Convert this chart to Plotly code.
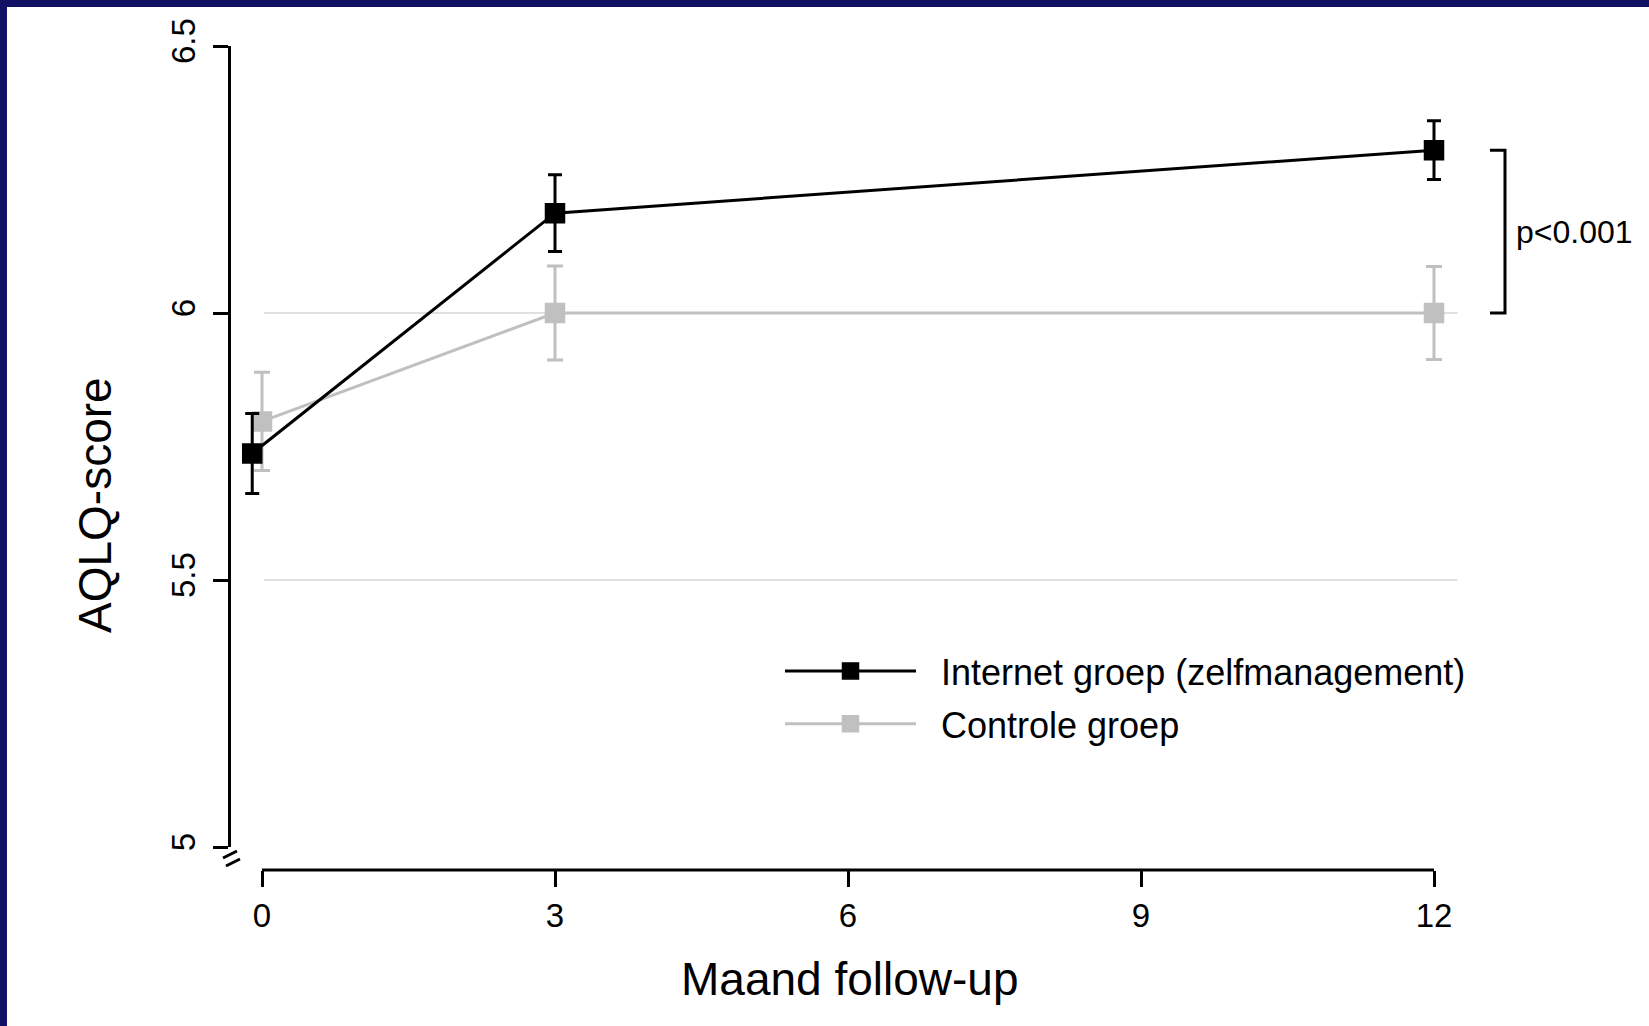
import plotly.graph_objects as go

W, H = 1649, 1026

def px(x):
    return x / W

def py(y):
    return 1 - y / H

# ---- data ----
months_internet = [-0.1, 3, 12]
months_controle = [0, 3, 12]
internet_mean = [5.737, 6.187, 6.305]
internet_err = [0.075, 0.072, 0.055]
controle_mean = [5.797, 6.0, 6.0]
controle_err = [0.092, 0.088, 0.087]
x_ticks = [0, 3, 6, 9, 12]
x_ticklabels = ["0", "3", "6", "9", "12"]
y_ticks = [5, 5.5, 6, 6.5]
y_ticklabels = ["5", "5.5", "6", "6.5"]
grid_vals = [5.5, 6.0]
series_names = ["Internet groep (zelfmanagement)", "Controle groep"]
p_text = "p<0.001"

BLACK = "#000000"
GRAY = "#c0c0c0"
NAVY = "#111166"
FONT = "Liberation Sans, Arial, sans-serif"
PAD = "\u00a0\u00a0"

fig = go.Figure()

fig.add_trace(go.Scatter(
    x=months_controle, y=controle_mean, name=PAD + series_names[1], legendgroup="c", legendrank=2,
    mode="lines+markers",
    line=dict(color=GRAY, width=3),
    marker=dict(symbol="square", size=19, color=GRAY, line=dict(color=GRAY, width=1.5)),
    error_y=dict(type="data", array=controle_err, color=GRAY, thickness=3, width=8),
    cliponaxis=False,
))
fig.add_trace(go.Scatter(
    x=months_internet, y=internet_mean, name=PAD + series_names[0], legendgroup="i", legendrank=1,
    mode="lines+markers",
    line=dict(color=BLACK, width=3),
    marker=dict(symbol="square", size=19, color=BLACK, line=dict(color=BLACK, width=1.5)),
    error_y=dict(type="data", array=internet_err, color=BLACK, thickness=3, width=7),
    cliponaxis=False,
))

# x axis pixel mapping: 0 -> 262px, 12 -> 1434px
x0_px, x12_px = 262, 1434
ppu = (x12_px - x0_px) / 12.0
dom_l, dom_r = 240, 1460
xr = [(dom_l - x0_px) / ppu, (dom_r - x0_px) / ppu]

shapes = []
# white page area with navy border on left/top
shapes.append(dict(type="rect", xref="paper", yref="paper", x0=px(7), x1=px(W + 5),
                   y0=py(H + 5), y1=py(7), fillcolor="white", line=dict(width=0), layer="below"))
# gridlines
for g in grid_vals:
    shapes.append(dict(type="line", xref="x", yref="y", x0=0.02, x1=12.24, y0=g, y1=g,
                       line=dict(color="#e0e0e0", width=2), layer="below"))
# x axis line (from 0 to 12)
shapes.append(dict(type="line", xref="x", yref="paper", x0=x_ticks[0], x1=x_ticks[-1],
                   y0=py(870), y1=py(870), line=dict(color=BLACK, width=3)))
# axis break marks
for (a, b, c, d) in [(223, 858, 237, 851), (226, 866, 240, 859)]:
    shapes.append(dict(type="line", xref="paper", yref="paper", x0=px(a), y0=py(b), x1=px(c), y1=py(d),
                       line=dict(color=BLACK, width=3)))
# significance bracket
top_v, bot_v = internet_mean[-1], controle_mean[-1]
shapes.append(dict(type="path", xref="paper", yref="y",
                   path=f"M {px(1490)},{top_v} L {px(1505)},{top_v} L {px(1505)},{bot_v} L {px(1490)},{bot_v}",
                   line=dict(color=BLACK, width=3)))

annotations = [
    dict(text=p_text, xref="paper", yref="y", x=px(1514), y=(top_v + bot_v) / 2,
         xanchor="left", yanchor="middle", showarrow=False, font=dict(size=32, color=BLACK, family=FONT)),
    dict(text="AQLQ-score", xref="paper", yref="paper", x=px(95), y=py(505), textangle=-90,
         xanchor="center", yanchor="middle", showarrow=False, font=dict(size=46, color=BLACK, family=FONT)),
    dict(text="Maand follow-up", xref="paper", yref="paper", x=px(850), y=py(979),
         xanchor="center", yanchor="middle", showarrow=False, font=dict(size=46, color=BLACK, family=FONT)),
]

fig.update_layout(
    width=W, height=H,
    margin=dict(l=0, r=0, t=0, b=0, autoexpand=False),
    paper_bgcolor=NAVY, plot_bgcolor="rgba(0,0,0,0)",
    font=dict(family=FONT, color=BLACK),
    shapes=shapes, annotations=annotations,
    showlegend=True,
    legend=dict(x=px(780), y=py(641), xanchor="left", yanchor="top",
                bgcolor="rgba(0,0,0,0)", font=dict(size=36, color=BLACK, family=FONT),
                traceorder="grouped", tracegroupgap=3, itemwidth=131),
    xaxis=dict(domain=[px(dom_l), px(dom_r)], range=xr, anchor="free", position=py(870),
               showline=False, showgrid=False, zeroline=False,
               tickmode="array", tickvals=x_ticks, ticktext=x_ticklabels,
               ticks="outside", ticklen=16, tickwidth=3, tickcolor=BLACK,
               tickfont=dict(size=33, color=BLACK, family=FONT), automargin=False),
    yaxis=dict(domain=[py(847), py(46)], range=[5, 6.5], anchor="free", position=px(229),
               showline=True, linecolor=BLACK, linewidth=3, showgrid=False, zeroline=False,
               tickmode="array", tickvals=y_ticks, ticktext=y_ticklabels, tickangle=-90,
               ticks="outside", ticklen=15, tickwidth=3, tickcolor=BLACK, ticklabelstandoff=5,
               tickfont=dict(size=33, color=BLACK, family=FONT), automargin=False),
)

fig.write_html("out.html", config={"displayModeBar": False},
               post_script="document.body.style.margin='0px';document.body.style.padding='0px';")
